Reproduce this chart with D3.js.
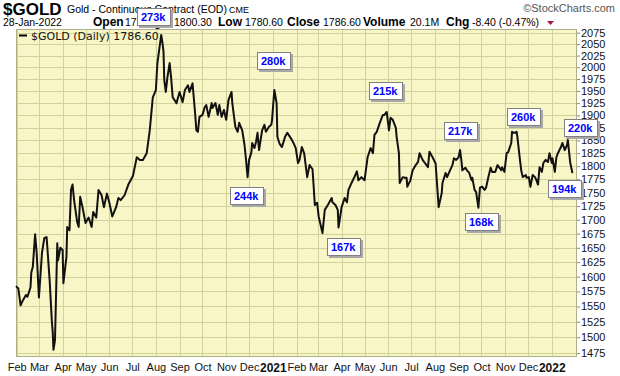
<!DOCTYPE html>
<html><head><meta charset="utf-8">
<script src="https://cdn.jsdelivr.net/npm/d3@7"></script>
<style>
body{margin:0;background:#fff;}
svg{display:block;font-family:"Liberation Sans",Arial,sans-serif;}
</style></head><body>
<svg id="c" width="620" height="376"></svg>
<script>
// ---- data ----
const gold2020 = [
["2020-01-31",1584],["2020-02-03",1580],["2020-02-06",1552],["2020-02-09",1560],["2020-02-13",1569],["2020-02-15",1566],
["2020-02-19",1582],["2020-02-20",1607],["2020-02-22",1617],["2020-02-25",1674],["2020-02-27",1642],["2020-03-01",1565],
["2020-03-05",1641],["2020-03-08",1667],["2020-03-11",1669],["2020-03-12",1651],["2020-03-15",1594],["2020-03-18",1524],
["2020-03-19",1509],["2020-03-20",1480],["2020-03-22",1495],["2020-03-25",1658],["2020-03-26",1628],["2020-03-29",1650],
["2020-04-01",1646],["2020-04-02",1589],["2020-04-06",1634],["2020-04-07",1687],["2020-04-10",1681],["2020-04-12",1755],
["2020-04-14",1765],["2020-04-16",1736],["2020-04-20",1696],["2020-04-22",1687],["2020-04-24",1742],["2020-04-27",1723],
["2020-05-01",1694],["2020-05-05",1704],["2020-05-09",1687],["2020-05-11",1714],["2020-05-15",1704],["2020-05-18",1755],
["2020-05-22",1745],["2020-05-25",1723],["2020-05-29",1748],["2020-06-01",1732],["2020-06-05",1706],["2020-06-10",1723],
["2020-06-13",1740],["2020-06-16",1736],["2020-06-21",1745],["2020-06-26",1765],["2020-07-02",1781],["2020-07-07",1817],
["2020-07-11",1812],["2020-07-15",1812],["2020-07-20",1825],["2020-07-24",1870],["2020-07-28",1937],["2020-08-01",1952],
["2020-08-03",2009],["2020-08-08",2070],["2020-08-10",2048],["2020-08-11",2033],["2020-08-12",1973],["2020-08-14",1948],
["2020-08-16",1977],["2020-08-19",2009],["2020-08-21",1977],["2020-08-23",1937],["2020-08-28",1925],["2020-09-01",1948],
["2020-09-05",1927],["2020-09-08",1952],["2020-09-12",1962],["2020-09-14",1948],["2020-09-18",1966],["2020-09-21",1911],
["2020-09-23",1870],["2020-09-25",1867],["2020-09-27",1897],["2020-10-01",1901],["2020-10-04",1917],["2020-10-06",1921],
["2020-10-09",1897],["2020-10-13",1925],["2020-10-14",1915],["2020-10-18",1925],["2020-10-21",1901],["2020-10-23",1921],
["2020-10-26",1897],["2020-10-29",1911],["2020-11-01",1891],["2020-11-04",1931],["2020-11-08",1948],["2020-11-09",1925],
["2020-11-13",1877],["2020-11-16",1867],["2020-11-18",1885],["2020-11-22",1870],["2020-11-25",1841],["2020-11-27",1812],
["2020-11-29",1779],["2020-12-01",1812],["2020-12-04",1827],["2020-12-05",1845],["2020-12-08",1835],["2020-12-10",1847],
["2020-12-12",1865],["2020-12-14",1831],["2020-12-18",1870],["2020-12-21",1881],["2020-12-23",1867],["2020-12-27",1877],
["2020-12-30",1881],["2020-12-31",1891]
];
const gold2021 = [
["2021-01-03",1952],["2021-01-06",1925],["2021-01-07",1857],["2021-01-10",1843],["2021-01-13",1837],["2021-01-17",1857],
["2021-01-20",1865],["2021-01-26",1851],["2021-01-28",1845],["2021-01-31",1835],["2021-02-03",1806],["2021-02-05",1812],
["2021-02-08",1837],["2021-02-11",1825],["2021-02-15",1779],["2021-02-18",1802],["2021-02-22",1794],["2021-02-25",1727],
["2021-02-28",1731],["2021-03-02",1706],["2021-03-07",1676],["2021-03-10",1718],["2021-03-14",1727],["2021-03-19",1740],
["2021-03-20",1732],["2021-03-24",1727],["2021-03-27",1718],["2021-03-28",1686],["2021-04-01",1723],["2021-04-05",1740],
["2021-04-08",1732],["2021-04-10",1755],["2021-04-14",1768],["2021-04-18",1780],["2021-04-21",1790],["2021-04-23",1773],
["2021-04-27",1779],["2021-05-01",1773],["2021-05-05",1817],["2021-05-09",1835],["2021-05-12",1825],["2021-05-14",1861],
["2021-05-17",1867],["2021-05-21",1885],["2021-05-25",1901],["2021-05-27",1901],["2021-05-30",1907],["2021-06-02",1870],
["2021-06-04",1895],["2021-06-07",1891],["2021-06-11",1875],["2021-06-12",1857],["2021-06-15",1825],["2021-06-16",1768],
["2021-06-20",1779],["2021-06-23",1778],["2021-06-25",1778],["2021-06-26",1761],["2021-06-30",1773],["2021-07-03",1792],
["2021-07-07",1802],["2021-07-10",1808],["2021-07-12",1825],["2021-07-16",1812],["2021-07-19",1806],["2021-07-23",1798],
["2021-07-25",1828],["2021-07-29",1817],["2021-08-02",1805],["2021-08-06",1723],["2021-08-10",1749],["2021-08-11",1768],
["2021-08-15",1787],["2021-08-17",1779],["2021-08-20",1789],["2021-08-24",1802],["2021-08-26",1815],["2021-08-29",1812],
["2021-09-01",1817],["2021-09-03",1831],["2021-09-05",1808],["2021-09-06",1792],["2021-09-10",1797],["2021-09-12",1792],
["2021-09-15",1787],["2021-09-18",1773],["2021-09-19",1778],["2021-09-22",1755],["2021-09-24",1751],["2021-09-27",1722],
["2021-09-29",1759],["2021-10-02",1761],["2021-10-05",1755],["2021-10-07",1759],["2021-10-10",1779],["2021-10-13",1797],
["2021-10-15",1789],["2021-10-19",1789],["2021-10-22",1802],["2021-10-24",1798],["2021-10-27",1792],["2021-10-28",1798],
["2021-10-31",1789],["2021-11-03",1825],["2021-11-05",1827],["2021-11-09",1845],["2021-11-10",1867],["2021-11-13",1865],
["2021-11-16",1867],["2021-11-17",1857],["2021-11-20",1817],["2021-11-22",1792],["2021-11-24",1779],["2021-11-28",1783],
["2021-11-29",1778],["2021-12-02",1779],["2021-12-04",1761],["2021-12-07",1783],["2021-12-10",1779],["2021-12-12",1773],
["2021-12-14",1765],["2021-12-16",1798],["2021-12-19",1789],["2021-12-21",1806],["2021-12-24",1812],["2021-12-27",1808],
["2021-12-29",1825]
];
const gold2022 = [
["2022-01-01",1806],["2022-01-02",1815],["2022-01-05",1789],["2022-01-07",1817],["2022-01-09",1825],["2022-01-13",1837],
["2022-01-15",1845],["2022-01-18",1831],["2022-01-21",1841],["2022-01-22",1851],["2022-01-25",1808],["2022-01-28",1786.6]
];
const volumeLabels = ["273k","280k","244k","215k","167k","217k","168k","260k","220k","194k"];
const volumeDates  = ["2020-07-29","2021-01-03","2020-11-28","2021-05-29","2021-04-04","2021-09-04","2021-10-02","2021-11-26","2022-02-08","2022-01-18"];
const volumePrices = [2109,2013,1743,1949,1651,1869,1696,1897,1875,1757];
const yTicks = d3.range(1475, 2076, 25);
const headerValues = {date:"28-Jan-2022", open:"1795.30", high:"1800.30", low:"1780.60", close:"1786.60", volume:"20.1M", chg:"-8.40 (-0.47%)"};

// ---- layout ----
const L = 16, R = 577, T = 29, B = 357;
const parse = d3.timeParse("%Y-%m-%d");
const series = gold2020.concat(gold2021, gold2022).map(d => ({date: parse(d[0]), v: d[1]}));

const x = d3.scaleTime().domain([new Date(2020,0,31), new Date(2022,1,3)]).range([L, R]);
const y = d3.scaleLog().domain([1475, 2075]).range([353, 32.7]);

const svg = d3.select("#c");
svg.append("rect").attr("width",620).attr("height",376).attr("fill","#fff");

// plot background
svg.append("rect").attr("x",L).attr("y",T).attr("width",R-L).attr("height",B-T).attr("fill","#f8f6c6");

// grid
const months = d3.timeMonth.range(new Date(2020,1,1), new Date(2022,1,1));
svg.append("g").selectAll("line").data(yTicks).join("line")
  .attr("x1",L).attr("x2",R).attr("y1",d=>Math.round(y(d))+0.5).attr("y2",d=>Math.round(y(d))+0.5)
  .attr("stroke","#d0d29c").attr("stroke-width",1);
svg.append("g").selectAll("line").data(months).join("line")
  .attr("x1",d=>Math.round(x(d))+0.5).attr("x2",d=>Math.round(x(d))+0.5).attr("y1",T).attr("y2",B)
  .attr("stroke","#d0d29c").attr("stroke-width",1);

// border
svg.append("rect").attr("x",L+0.5).attr("y",T+0.5).attr("width",R-L-1).attr("height",B-T-1)
  .attr("fill","none").attr("stroke","#b0b088");

// y axis
const yAxis = d3.axisRight(y).tickValues(yTicks).tickFormat(d3.format("d")).tickSize(3).tickPadding(1);
const gy = svg.append("g").attr("transform",`translate(${R},0)`).call(yAxis);
gy.select(".domain").remove();
gy.selectAll("line").attr("stroke","#888");
gy.selectAll("text").attr("font-size",11).attr("fill","#111").attr("font-family","Liberation Sans, Arial, sans-serif");

// x axis
const xAxis = d3.axisBottom(x).tickValues(months).tickSize(0).tickPadding(6)
  .tickFormat(d => d.getMonth()===0 ? d3.timeFormat("%Y")(d) : d3.timeFormat("%b")(d));
const gx = svg.append("g").attr("transform",`translate(0,${B})`).call(xAxis);
gx.select(".domain").remove();
gx.selectAll("text").attr("fill","#111").attr("font-family","Liberation Sans, Arial, sans-serif")
  .attr("font-weight", d => d.getMonth()===0 ? "bold" : "normal")
  .attr("font-size", d => d.getMonth()===0 ? 12 : 11);

// price line
const line = d3.line().x(d=>x(d.date)).y(d=>y(d.v));
svg.append("path").datum(series).attr("d",line).attr("fill","none")
  .attr("stroke","#111").attr("stroke-width",2).attr("stroke-linejoin","round");

// legend
svg.append("line").attr("x1",19).attr("x2",27).attr("y1",35.5).attr("y2",35.5).attr("stroke","#000").attr("stroke-width",2);
svg.append("text").attr("x",31).attr("y",40).attr("font-family","DejaVu Sans, Verdana, sans-serif").attr("font-size",11)
  .attr("fill","#111").text("$GOLD (Daily) " + headerValues.close);

// header
const hdr = svg.append("g").attr("fill","#000");
hdr.append("text").attr("x",3).attr("y",15).attr("font-size",17).attr("font-weight","bold").text("$GOLD");
hdr.append("text").attr("x",67).attr("y",13).attr("font-size",10.5).text("Gold - Continuous Contract (EOD)");
hdr.append("text").attr("x",229).attr("y",13).attr("font-size",9).text("CME");
hdr.append("text").attr("x",615).attr("y",12).attr("text-anchor","end").attr("font-size",11).attr("fill","#555").text("\u00A9StockCharts.com");
const row = [
  {t:headerValues.date, x:3, b:false},
  {t:"Open", x:93, b:true},{t:headerValues.open, x:125, b:false},
  {t:"High", x:142, b:true},{t:headerValues.high, x:174, b:false},
  {t:"Low", x:218, b:true},{t:headerValues.low, x:245, b:false},
  {t:"Close", x:287, b:true},{t:headerValues.close, x:323, b:false},
  {t:"Volume", x:363, b:true},{t:headerValues.volume, x:410, b:false},
  {t:"Chg", x:446, b:true},{t:headerValues.chg, x:472, b:false}
];
hdr.selectAll("text.r").data(row).join("text").attr("class","r")
  .attr("x",d=>d.x).attr("y",26).attr("font-size",d=>d.b?12:10.5).attr("font-weight",d=>d.b?"bold":"normal").text(d=>d.t);
hdr.append("path").attr("d","M547,21 L554,21 L550.5,25 Z").attr("fill","#b0103a");

// volume annotation boxes
const W = 34, H = 18;
const ann = volumeLabels.map((t,i)=>({t, cx:x(parse(volumeDates[i])), cy:y(volumePrices[i])}));
const ga = svg.append("g");
ga.selectAll("rect.s").data(ann).join("rect").attr("class","s")
  .attr("x",d=>Math.round(d.cx-W/2)+2).attr("y",d=>Math.round(d.cy-H/2)+2).attr("width",W).attr("height",H).attr("fill","#a8a8a8");
ga.selectAll("rect.b").data(ann).join("rect").attr("class","b")
  .attr("x",d=>Math.round(d.cx-W/2)+0.5).attr("y",d=>Math.round(d.cy-H/2)+0.5).attr("width",W-1).attr("height",H-1)
  .attr("fill","#fff").attr("stroke","#808080");
ga.selectAll("text").data(ann).join("text")
  .attr("x",d=>Math.round(d.cx-W/2)+4).attr("y",d=>Math.round(d.cy-H/2)+13)
  .attr("font-size",11).attr("font-weight","bold").attr("fill","#0000ff").text(d=>d.t);
</script></body></html>
